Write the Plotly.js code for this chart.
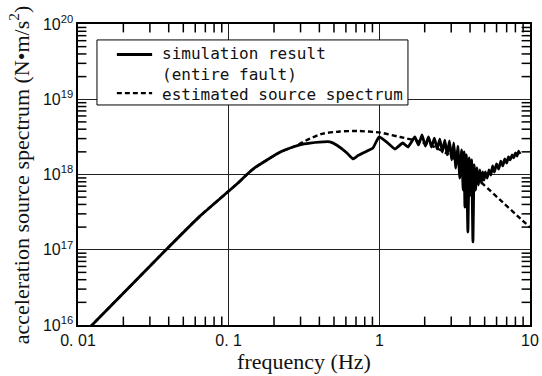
<!DOCTYPE html>
<html><head><meta charset="utf-8">
<script src="https://cdn.plot.ly/plotly-3.0.1.min.js"></script>
<style>html,body{margin:0;padding:0;background:#fff}</style>
</head><body><div id="chart" style="width:542px;height:376px"></div>
<script>
// simulation result (entire fault)
const simFreq = [0.01, 0.0124, 0.0384, 0.0645, 0.1153, 0.132, 0.15, 0.1795, 0.22, 0.267, 0.30, 0.346, 0.40, 0.47, 0.52, 0.61, 0.668, 0.72, 0.778, 0.907, 0.994, 1.12, 1.27, 1.43, 1.55,
  1.72, 1.82, 1.92, 2.02, 2.12, 2.22, 2.32, 2.42, 2.52, 2.62, 2.72, 2.82, 2.92, 3.02, 3.12, 3.22, 3.32, 3.42, 3.52, 3.60, 3.65, 3.70, 3.78, 3.87, 3.95, 4.03, 4.10, 4.18, 4.26, 4.35, 4.45, 4.55, 4.65, 4.75, 4.85, 4.95,
  5.05, 5.2, 5.35, 5.5, 5.65, 5.8, 6.0, 6.2, 6.4, 6.6, 6.8, 7.0, 7.2, 7.4, 7.6, 7.8, 8.0, 8.2, 8.4, 8.6];
const simValue = [6.5e15, 1.0e16, 1.0e17, 2.8e17, 7.7e17, 1.0e18, 1.24e18, 1.56e18, 1.99e18, 2.32e18, 2.5e18, 2.62e18, 2.70e18, 2.72e18, 2.47e18, 1.93e18, 1.61e18, 1.78e18, 1.93e18, 2.25e18, 3.15e18, 2.70e18, 2.18e18, 2.62e18, 2.32e18,
  3.15e18, 2.47e18, 3.35e18, 2.39e18, 3.15e18, 2.32e18, 3.05e18, 2.18e18, 2.96e18, 1.99e18, 2.87e18, 1.82e18, 2.79e18, 1.56e18, 2.62e18, 1.22e18, 2.39e18, 8.98e17, 2.12e18, 6.22e17, 1.99e18, 3.70e17, 1.82e18, 1.72e17, 1.66e18, 5.34e17, 1.56e18, 1.27e17, 1.34e18, 6.22e17, 1.22e18, 7.25e17, 1.15e18, 7.71e17, 1.08e18, 8.45e17,
  1.08e18, 8.98e17, 1.15e18, 9.85e17, 1.30e18, 1.08e18, 1.38e18, 1.18e18, 1.51e18, 1.30e18, 1.61e18, 1.42e18, 1.71e18, 1.56e18, 1.82e18, 1.66e18, 1.93e18, 1.76e18, 2.05e18, 1.87e18];

// estimated source spectrum
const estFreq = [0.01, 0.0124, 0.0384, 0.0645, 0.1153, 0.132, 0.15, 0.1795, 0.22, 0.267, 0.30, 0.346, 0.423, 0.548, 0.71, 1.01, 1.37, 1.78, 2.17, 2.81, 3.43, 3.99, 4.87, 6.61, 7.94, 10];
const estValue = [6.5e15, 1.0e16, 1.0e17, 2.8e17, 7.7e17, 1.0e18, 1.24e18, 1.56e18, 1.99e18, 2.32e18, 2.6e18, 3.0e18, 3.5e18, 3.73e18, 3.79e18, 3.61e18, 3.15e18, 2.8e18, 2.47e18, 1.90e18, 1.42e18, 1.08e18, 7.48e17, 4.25e17, 3.03e17, 1.98e17];

const seriesNames = ['simulation result', '(entire fault)', 'estimated source spectrum'];

const xTickVals = [0.01, 0.1, 1, 10];
const xTickText = ['0. 01', '0. 1', '1', '10'];
const xMinorVals = [0.02,0.03,0.04,0.05,0.06,0.07,0.08,0.09, 0.2,0.3,0.4,0.5,0.6,0.7,0.8,0.9, 2,3,4,5,6,7,8,9];
const yTickVals = [1e16, 1e17, 1e18, 1e19, 1e20];
const yTickText = ['10<sup>16</sup>', '10<sup>17</sup>', '10<sup>18</sup>', '10<sup>19</sup>', '10<sup>20</sup>'];
const yMinorVals = [];
[1e16, 1e17, 1e18, 1e19].forEach(d => { for (let k = 2; k <= 9; k++) yMinorVals.push(k * d); });

// minor tick marks: line symbols centred on the plot edges, clipped to the plot area so only the inner half shows
const xLo = xTickVals[0], xHi = xTickVals[xTickVals.length - 1];
const yLo = yTickVals[0], yHi = yTickVals[yTickVals.length - 1];
const tickMarkX = {x: xMinorVals.concat(xMinorVals), y: xMinorVals.map(() => yLo).concat(xMinorVals.map(() => yHi))};
const tickMarkY = {x: yMinorVals.map(() => xLo).concat(yMinorVals.map(() => xHi)), y: yMinorVals.concat(yMinorVals)};

const traces = [
  {x: simFreq, y: simValue, type: 'scatter', mode: 'lines', name: seriesNames[0] + ' ' + seriesNames[1], showlegend: false,
   line: {color: '#000', width: 2.8, shape: 'spline', smoothing: 0.35}},
  {x: estFreq, y: estValue, type: 'scatter', mode: 'lines', name: seriesNames[2], showlegend: false,
   line: {color: '#000', width: 2.4, dash: '5px,3px', shape: 'spline', smoothing: 0.6}},
  {x: tickMarkX.x, y: tickMarkX.y, type: 'scatter', mode: 'markers', showlegend: false, hoverinfo: 'skip', cliponaxis: true,
   marker: {symbol: 'line-ns-open', size: 12, color: '#000', line: {color: '#000', width: 1.5}}},
  {x: tickMarkY.x, y: tickMarkY.y, type: 'scatter', mode: 'markers', showlegend: false, hoverinfo: 'skip', cliponaxis: true,
   marker: {symbol: 'line-ew-open', size: 12, color: '#000', line: {color: '#000', width: 1.5}}}
];

const labelFont = {family: 'Liberation Sans, Arial, sans-serif', size: 16, color: '#111'};
const titleFont = {family: 'Liberation Serif, Times New Roman, serif', size: 22, color: '#111'};
const legendFont = {family: 'DejaVu Sans Mono, monospace', size: 16, color: '#111'};

// legend geometry in paper coordinates
const lgL = 0.042, lgR = 0.730, lgT = 0.947, lgB = 0.731;
const row1 = 0.9037, row2 = 0.834, row3 = 0.7674;
const smpL = 0.086, smpR = 0.164, txtX = 0.186;

const legendText = (t, y) => ({xref: 'paper', yref: 'paper', x: txtX, y: y, xanchor: 'left', yanchor: 'middle', showarrow: false,
  text: t, font: legendFont, height: 20, borderpad: 0, borderwidth: 0});

const layout = {
  width: 542, height: 376,
  margin: {l: 78, r: 12, t: 24, b: 51},
  paper_bgcolor: '#fff', plot_bgcolor: '#fff',
  showlegend: false,
  xaxis: {
    type: 'log', range: [-2, 1], tickmode: 'array',
    tickvals: xTickVals, ticktext: xTickText, tickfont: labelFont,
    showline: true, mirror: true, linecolor: '#000', linewidth: 1.6, ticks: '',
    showgrid: true, gridcolor: '#222', gridwidth: 1, zeroline: false,
    title: {text: 'frequency (Hz)', font: titleFont, standoff: 6}
  },
  yaxis: {
    type: 'log', range: [16, 20], tickmode: 'array',
    tickvals: yTickVals, ticktext: yTickText, tickfont: labelFont,
    showline: true, mirror: true, linecolor: '#000', linewidth: 1.6, ticks: '',
    showgrid: true, gridcolor: '#222', gridwidth: 1, zeroline: false
  },
  shapes: [
    {type: 'rect', xref: 'paper', yref: 'paper', x0: lgL, x1: lgR, y0: lgB, y1: lgT,
     line: {color: '#000', width: 1}, fillcolor: '#fff', layer: 'above'},
    {type: 'line', xref: 'paper', yref: 'paper', x0: smpL, x1: smpR, y0: row1 - 0.005, y1: row1 - 0.005,
     line: {color: '#000', width: 2.8}, layer: 'above'},
    {type: 'line', xref: 'paper', yref: 'paper', x0: smpL, x1: smpR, y0: row3 + 0.003, y1: row3 + 0.003,
     line: {color: '#000', width: 2.4, dash: '5px,3px'}, layer: 'above'}
  ],
  annotations: [
    legendText(seriesNames[0], row1),
    legendText(seriesNames[1], row2),
    legendText(seriesNames[2], row3),
    {xref: 'paper', yref: 'paper', x: -0.131, y: 0.5, xanchor: 'center', yanchor: 'middle', showarrow: false, textangle: -90,
     text: 'acceleration source spectrum (N\u2022m/s<sup>2</sup>)', font: titleFont}
  ]
};

Plotly.newPlot('chart', traces, layout, {staticPlot: true, displayModeBar: false});
</script>
</body></html>
